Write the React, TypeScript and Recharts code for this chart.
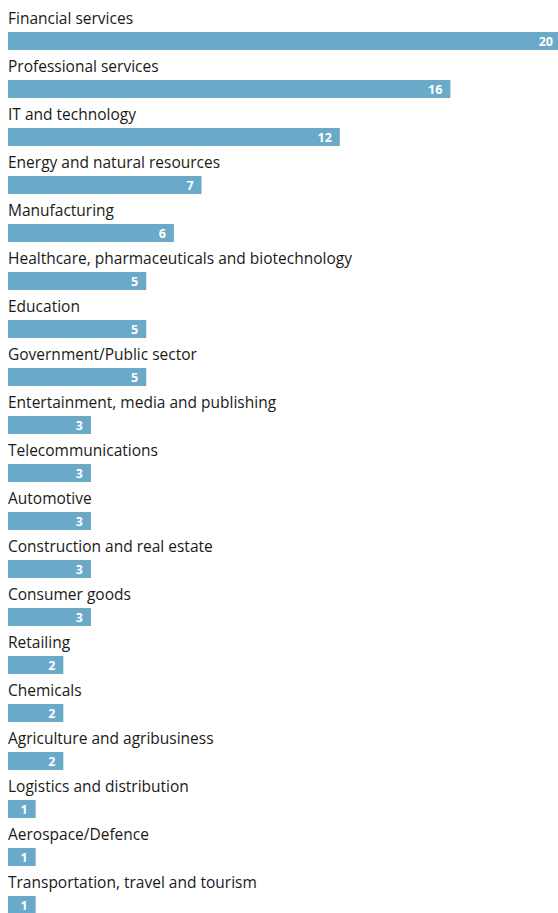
import React from "react";
import { BarChart, Bar, XAxis, YAxis, LabelList } from "recharts";

const categories = [
  "Financial services",
  "Professional services",
  "IT and technology",
  "Energy and natural resources",
  "Manufacturing",
  "Healthcare, pharmaceuticals and biotechnology",
  "Education",
  "Government/Public sector",
  "Entertainment, media and publishing",
  "Telecommunications",
  "Automotive",
  "Construction and real estate",
  "Consumer goods",
  "Retailing",
  "Chemicals",
  "Agriculture and agribusiness",
  "Logistics and distribution",
  "Aerospace/Defence",
  "Transportation, travel and tourism",
];

const values = [20, 16, 12, 7, 6, 5, 5, 5, 3, 3, 3, 3, 3, 2, 2, 2, 1, 1, 1];

const data = categories.map((name, i) => ({ name, value: values[i] }));

const FONT = "'Open Sans', 'Noto Sans', sans-serif";

const NameLabel = (props: any) => {
  const { x, y, value } = props;
  return (
    <text x={x} y={y - 8} fill="#1a1a1a" fontSize={15.5} fontFamily={FONT} textAnchor="start">
      {value}
    </text>
  );
};

const ValueLabel = (props: any) => {
  const { x, y, width, height, value } = props;
  return (
    <text
      x={x + width - 8}
      y={y + height / 2}
      fill="#ffffff"
      fontSize={12.5}
      fontWeight={700}
      fontFamily={FONT}
      textAnchor="end"
      dominantBaseline="central"
    >
      {value}
    </text>
  );
};

export default function App() {
  return (
    <div
      style={{
        position: "fixed",
        left: 0,
        top: 0,
        width: 558,
        height: 913,
        overflow: "hidden",
        background: "#ffffff",
      }}
    >
      <div style={{ position: "absolute", left: 8, top: 8 }}>
        <BarChart
          width={553}
          height={921}
          data={data}
          layout="vertical"
          margin={{ top: 9, right: 0, bottom: 0, left: 0 }}
          barCategoryGap={15}
        >
          <XAxis type="number" domain={[0, 20]} hide />
          <YAxis type="category" dataKey="name" hide width={0} />
          <Bar dataKey="value" fill="#6aaac8" barSize={18} isAnimationActive={false}>
            <LabelList dataKey="name" content={<NameLabel />} />
            <LabelList dataKey="value" content={<ValueLabel />} />
          </Bar>
        </BarChart>
      </div>
    </div>
  );
}
